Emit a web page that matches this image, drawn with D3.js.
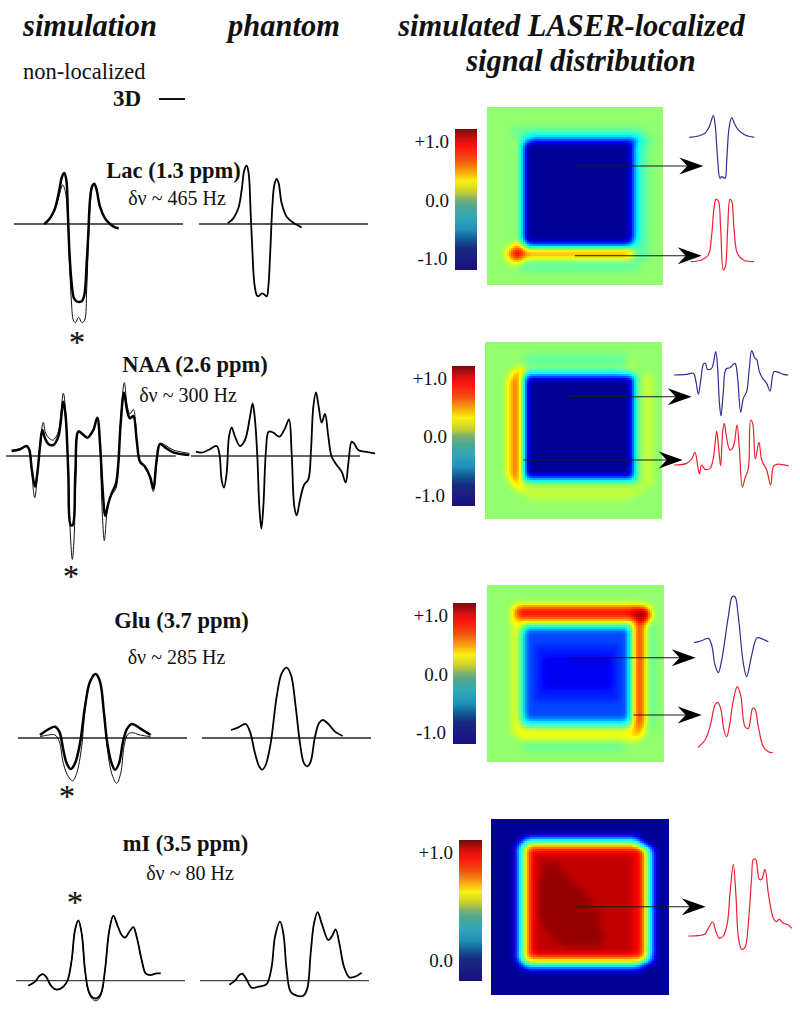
<!DOCTYPE html>
<html><head><meta charset="utf-8">
<style>html,body{margin:0;padding:0;background:#fff}svg{display:block}text{font-family:"Liberation Serif",serif;fill:#111}</style>
<script src="https://cdn.jsdelivr.net/npm/d3@7"></script>
</head><body><svg id="c" width="800" height="1009"></svg>
<script>
// ---- spectra: [channel, amplitude] ----
const lacSimThick=[[133,0],[150,17],[165,47],[178,102],[186,142],[193,153],[199,132],[204,22],[208,-78],[214,-168],[222,-223],[230,-232],[245,-232],[253,-213],[260,-118],[265,-28],[270,72],[276,112],[283,121],[290,102],[300,52],[315,17],[330,0],[345,-10],[356,-13]];
const lacSimThin=[[133,0],[150,17],[165,42],[178,87],[188,117],[196,97],[204,2],[208,-108],[214,-228],[220,-288],[226,-296],[236,-280],[246,-296],[254,-288],[260,-198],[265,-58],[270,52],[276,107],[283,121],[290,102],[300,52],[315,17],[330,0],[345,-10],[356,-13]];
const lacPhantom=[[683,2],[700,17],[715,47],[725,102],[733,162],[740,175],[746,152],[752,32],[757,-78],[763,-178],[770,-213],[775,-217],[787,-208],[800,-217],[805,-188],[811,-78],[817,52],[823,117],[830,135],[836,122],[845,62],[860,22],[880,4],[905,-10]];
const naaSimThick=[[35,15],[60,20],[80,30],[88,18],[95,-37],[105,-92],[112,-52],[120,28],[127,78],[135,53],[145,36],[160,33],[175,58],[190,163],[197,118],[205,-52],[212,-207],[218,-207],[226,-52],[235,73],[245,68],[262,55],[280,78],[292,115],[300,38],[308,-102],[316,-179],[325,-142],[335,-112],[348,-82],[355,-22],[362,98],[372,190],[382,133],[390,113],[400,120],[410,48],[420,-17],[435,-32],[450,-62],[460,-97],[470,-12],[480,36],[495,26],[520,11],[568,3]];
const naaSimThin=[[35,18],[60,22],[80,30],[88,18],[95,-47],[104,-125],[112,-62],[120,38],[130,101],[137,68],[150,51],[160,48],[175,73],[190,188],[197,133],[205,-72],[212,-252],[217,-310],[222,-252],[228,-52],[235,76],[245,68],[262,55],[280,78],[292,115],[300,28],[306,-152],[313,-254],[322,-162],[332,-122],[348,-97],[355,-32],[362,108],[373,220],[382,148],[390,126],[400,140],[410,53],[420,-14],[435,-30],[450,-67],[460,-107],[470,-17],[480,38],[495,33],[520,18],[568,8]];
const naaPhantom=[[588,13],[605,10],[625,18],[650,30],[658,8],[665,-72],[672,-95],[680,-52],[687,58],[695,86],[705,58],[720,30],[735,48],[750,118],[758,158],[765,108],[772,-2],[778,-152],[784,-218],[790,-152],[798,18],[806,73],[820,70],[838,58],[855,83],[867,110],[875,8],[883,-152],[890,-178],[900,-132],[912,-87],[925,-70],[933,18],[940,148],[948,191],[956,148],[965,100],[975,126],[985,58],[995,-2],[1010,-27],[1025,-47],[1037,-79],[1045,-22],[1055,43],[1062,38],[1075,18],[1095,13],[1125,8]];
const gluSimThick=[[120,9],[145,26],[165,34],[178,19],[190,-36],[200,-76],[212,-93],[225,-76],[240,-16],[255,94],[270,169],[287,192],[300,169],[312,74],[322,-16],[335,-76],[345,-95],[357,-76],[370,-6],[382,29],[395,42],[420,29],[452,9]];
const gluSimThin=[[120,4],[145,9],[165,9],[178,-11],[190,-76],[205,-116],[218,-128],[230,-106],[245,-26],[255,84],[270,169],[287,192],[300,169],[312,74],[322,-31],[335,-106],[350,-136],[362,-106],[372,-26],[382,9],[395,16],[420,9],[452,4]];
const gluPhantom=[[693,24],[715,32],[737,42],[750,19],[765,-46],[778,-86],[787,-95],[797,-81],[812,-16],[830,124],[845,194],[860,211],[873,189],[887,94],[900,-16],[912,-76],[922,-85],[932,-71],[945,4],[957,44],[968,54],[985,42],[1005,19],[1028,6]];
const miSimThick=[[85,-15],[105,-3],[118,14],[128,20],[138,12],[155,-18],[170,-27],[190,-18],[203,2],[215,62],[225,152],[235,181],[245,142],[255,32],[265,-28],[275,-48],[290,-53],[303,-38],[315,32],[328,152],[340,195],[352,167],[365,137],[375,129],[388,147],[400,161],[410,132],[425,62],[437,22],[450,17],[470,22],[482,22]];
const miSimThin=[[85,-15],[105,-3],[118,14],[128,20],[138,12],[155,-18],[170,-27],[190,-18],[203,2],[215,62],[225,152],[235,181],[245,142],[255,32],[265,-33],[278,-56],[290,-60],[303,-43],[315,32],[328,152],[340,195],[352,167],[365,137],[375,129],[388,147],[400,161],[410,132],[425,62],[437,22],[450,17],[470,22],[482,22]];
const miPhantom=[[688,-12],[705,0],[718,17],[727,21],[738,7],[755,-21],[775,-18],[800,-10],[815,42],[825,132],[840,177],[850,142],[860,32],[872,-33],[890,-45],[910,-45],[922,-23],[932,82],[942,172],[953,206],[965,172],[985,122],[995,132],[1007,154],[1018,112],[1032,42],[1048,10],[1065,12],[1085,24]];
const lacBlue=[[868,0],[895,4],[915,12],[928,32],[940,65],[946,32],[952,-53],[960,-123],[965,-118],[975,-123],[980,-73],[987,27],[995,59],[1003,42],[1015,22],[1035,7],[1063,0]];
const lacRed=[[872,0],[905,5],[925,20],[935,80],[942,160],[948,187],[955,182],[962,100],[970,-25],[976,-15],[983,100],[990,187],[995,182],[1002,100],[1012,25],[1030,5],[1062,0]];
const naaBlue=[[822,0],[860,2],[880,5],[888,-20],[895,-58],[903,-10],[910,32],[916,35],[922,17],[935,20],[947,70],[953,20],[958,-80],[963,-123],[970,-50],[978,18],[990,22],[1005,35],[1013,-10],[1022,-112],[1030,-70],[1040,-50],[1048,20],[1055,73],[1065,50],[1070,47],[1078,10],[1088,-10],[1100,-25],[1110,-48],[1122,10],[1135,8],[1150,2],[1165,0]];
const naaRed=[[822,0],[860,5],[875,18],[885,38],[892,5],[898,-27],[905,0],[915,-13],[930,-10],[940,20],[950,102],[956,50],[962,-2],[968,100],[973,125],[980,80],[990,45],[1000,55],[1011,120],[1018,50],[1027,-67],[1035,-40],[1045,-10],[1052,135],[1058,125],[1066,18],[1077,68],[1085,15],[1100,-15],[1112,-60],[1120,-5],[1130,2],[1167,-3]];
const gluBlue=[[882,-3],[905,3],[925,10],[935,-10],[945,-70],[955,-93],[965,-55],[985,75],[997,135],[1005,135],[1015,75],[1030,-65],[1040,-105],[1052,-55],[1065,0],[1072,12],[1090,7],[1105,0]];
const gluRed=[[893,16],[915,38],[930,78],[945,143],[953,151],[962,133],[972,68],[980,48],[988,78],[1000,158],[1012,198],[1022,173],[1035,78],[1045,73],[1058,133],[1065,130],[1075,78],[1090,18],[1105,3],[1118,0]];
const miRed=[[865,0],[895,1],[915,6],[925,23],[938,42],[948,13],[958,-7],[970,0],[982,38],[990,128],[1000,215],[1008,118],[1015,-2],[1025,-40],[1035,-34],[1045,38],[1055,178],[1060,230],[1067,230],[1078,170],[1085,170],[1095,200],[1105,128],[1120,53],[1128,43],[1138,50],[1150,38],[1165,33],[1175,23]];

// ---- signal maps: rows as [repeat, run-length levels], a (low) .. z (high) ----
const mapLac=[[5,"44n"],[1,"6n 34m 4n"],[1,"6n 3m 29k 2m 4n"],[1,"6n 2m 1l 2k 26i 2j 1l 1m 3n"],[1,"7n 1o 1l 1i 1e 26c 1e 1i 1k 2l 2n"],[24,"6n 1m 1p 1j 1c 26a 1c 1i 1k 1l 1m 3n"],[1,"6n 1m 1p 1k 1f 26b 1f 1j 2l 1m 3n"],[1,"5n 1o 1q 1s 1t 1j 26f 1i 1k 2l 1m 3n"],[1,"4n 1o 1r 1v 1x 1x 1t 26r 1p 1m 2l 1m 3n"],[1,"4n 1p 1t 1w 1y 1w 1u 26t 1q 1m 2l 1m 3n"],[1,"4n 1o 1r 1v 1x 1v 1s 26r 1o 1m 2l 1m 3n"],[1,"5n 1o 1q 1r 1q 1n 26m 3m 5n"],[1,"7n 1o 30l 6n"],[1,"8n 30m 6n"],[3,"44n"]];
const mapNaa=[[3,"44n"],[1,"11n 24m 9n"],[1,"10n 25l 1n 1o 7n"],[1,"10n 25m 1n 1o 7n"],[1,"7n 1o 1q 1p 26n 1o 7n"],[1,"6n 1p 1r 1t 1r 1l 23l 2n 2o 6n"],[1,"6n 1p 1s 1u 1l 1f 25e 1f 1k 1n 1o 1p 1o 2n"],[1,"5n 1p 1s 1u 1u 1k 1b 25a 1b 1k 1n 1o 1p 1o 2n"],[23,"5n 1p 1s 1u 1u 1k 1b 25a 1c 1k 1n 1o 1p 1o 2n"],[1,"5n 1p 1s 1u 1u 1k 1c 25b 1c 1k 1n 1o 1p 1o 2n"],[1,"6n 1p 1s 1t 1l 1i 25i 1i 1l 1n 1o 1p 1o 2n"],[1,"6n 1p 1r 1s 1q 1o 25n 2n 1o 1o 1p 1o 2n"],[1,"7n 1p 1q 1q 1p 27o 1p 1o 4n"],[1,"8n 1p 1o 28p 1o 5n"],[1,"10n 27o 7n"],[1,"11n 25o 8n"],[4,"44n"]];
const mapGlu=[[4,"44n"],[1,"7n 32o 5n"],[1,"6n 1p 1s 30v 1u 1s 1p 3n"],[1,"6n 1r 1v 28w 2y 2z 1t 3n"],[1,"6n 1r 1v 28x 1y 3z 1u 3n"],[1,"6n 1q 1s 28u 1w 2z 1y 1t 3n"],[1,"6n 3q 27o 1r 1u 1x 1s 1m 3n"],[1,"6n 1p 1q 1p 1j 25i 1j 1s 1v 1v 1q 1l 1m 2n"],[1,"6n 1p 1q 1n 1f 25e 1f 1s 1v 1v 1q 1l 1m 2n"],[3,"6n 1p 1q 1l 1f 25e 1g 1s 1v 1v 1q 1l 1m 2n"],[3,"6n 1p 1q 1l 1f 2e 21d 2e 1g 1s 1v 1v 1q 1l 1m 2n"],[8,"6n 1p 1q 1l 1f 2e 2d 17c 2d 2e 1g 1s 1v 1v 1q 1l 1m 2n"],[3,"6n 1p 1q 1l 1f 2e 21d 2e 1g 1s 1v 1v 1q 1l 1m 2n"],[4,"6n 1p 1q 1l 1f 25e 1g 1s 1v 1v 1q 1l 1m 2n"],[1,"6n 1p 1q 1m 1g 25f 1h 1s 1v 1v 1q 1l 1m 2n"],[1,"6n 1p 1q 1n 1j 25i 1k 1s 1v 1v 1q 1l 1m 2n"],[1,"6n 1p 1q 1q 1p 25o 1p 1s 1u 1s 1o 1m 3n"],[1,"6n 1p 29q 1s 1t 1r 1o 1m 3n"],[1,"7n 1o 28q 1r 1s 1q 5n"],[1,"8n 1o 28p 1o 6n"],[1,"9n 25l 10n"],[1,"9n 25m 10n"],[3,"44n"]];
const mapMi=[[4,"44a"],[1,"8a 1b 27d 1b 7a"],[1,"7a 1c 1g 27k 1g 1c 6a"],[1,"6a 1c 1h 1m 27r 1m 1h 1c 5a"],[1,"6a 1e 1l 1q 1v 27w 1u 1p 1i 1d 3a"],[1,"6a 1d 1k 1q 1v 27x 1w 1q 1j 1d 3a"],[2,"6a 1d 1k 1q 1v 1x 24y 2x 1w 1q 1j 1d 3a"],[2,"6a 1d 1k 1q 1v 1x 2y 4z 18y 2x 1w 1q 1j 1d 3a"],[2,"6a 1d 1k 1q 1v 1x 2y 6z 16y 2x 1w 1q 1j 1d 3a"],[2,"6a 1d 1k 1q 1v 1x 1y 9z 14y 2x 1w 1q 1j 1d 3a"],[2,"6a 1d 1k 1q 1v 1x 1y 11z 12y 2x 1w 1q 1j 1d 3a"],[3,"6a 1d 1k 1q 1v 1x 1y 13z 10y 2x 1w 1q 1j 1d 3a"],[3,"6a 1d 1k 1q 1v 1x 1y 15z 8y 2x 1w 1q 1j 1d 3a"],[3,"6a 1d 1k 1q 1v 1x 2y 14z 8y 2x 1w 1q 1j 1d 3a"],[3,"6a 1d 1k 1q 1v 1x 4y 13z 7y 2x 1w 1q 1j 1d 3a"],[1,"6a 1d 1k 1q 1v 1x 7y 9z 8y 2x 1w 1q 1j 1d 3a"],[2,"6a 1d 1k 1q 1v 1x 24y 2x 1w 1q 1j 1d 3a"],[1,"6a 1e 1l 1q 1u 27v 1u 1p 1i 1d 3a"],[1,"6a 1c 1i 1n 1p 27q 1o 1k 1g 1c 3a"],[1,"7a 1c 1h 27j 1h 1d 1b 5a"],[1,"8a 1c 28d 1c 6a"],[6,"44a"]];

// ---- labels ----
const columnTitles=[["simulation",90,36],["phantom",284,36],["simulated LASER-localized",571.5,36],["signal distribution",581,71]];
const metabolites=["Lac (1.3 ppm)","NAA (2.6 ppm)","Glu (3.7 ppm)","mI (3.5 ppm)"];
const widths=["δν ~ 465 Hz","δν ~ 300 Hz","δν ~ 285 Hz","δν ~ 80 Hz"];
const tickLabels=[["+1.0","0.0","-1.0"],["+1.0","0.0","-1.0"],["+1.0","0.0","-1.0"],["+1.0","0.0"]];

// ---- layout ----
const svg=d3.select("#c");
svg.append("rect").attr("width",800).attr("height",1009).attr("fill","#fff");
const jet=d3.scaleLinear().domain([0,.11,.34,.5,.64,.89,1]).range(["#00007f","#0000ff","#00ffff","#7fff7f","#ffff00","#ff0000","#7f0000"]);
const barColor=d3.scaleLinear().domain([0,.07,.13,.22,.3,.37,.45,.5,.55,.63,.72,.78,.85,1]).range(["#780a0a","#d01010","#ff1510","#f05010","#f8a010","#f8f010","#c8d030","#80b070","#50a890","#30a8b8","#2090b8","#106098","#1a2a80","#1a1080"]);
const curve=d3.curveCatmullRom.alpha(.5);
function spectrum(data,ox,base,stroke,w,c){
  const x=d3.scaleLinear().domain([0,1200]).range([ox,ox+400]);
  const y=d3.scaleLinear().domain([-300,300]).range([base+100,base-100]);
  svg.append("path").datum(data).attr("fill","none").attr("stroke",stroke).attr("stroke-width",w).attr("stroke-linejoin","round")
    .attr("d",d3.line().x(d=>x(d[0])).y(d=>y(d[1])).curve(c||curve));
}
function baseline(x1,x2,y,col){svg.append("line").attr("x1",x1).attr("x2",x2).attr("y1",y).attr("y2",y).attr("stroke",col||"#222").attr("stroke-width",1.3);}
function parseMap(rows){
  const g=[];
  rows.forEach(([n,r])=>{
    let s="";r.split(" ").forEach(tok=>{s+=tok.slice(-1).repeat(+tok.slice(0,-1));});
    const vals=Array.from(s).map(ch=>.02+(ch.charCodeAt(0)-97)*.0384);
    for(let i=0;i<n;i++)g.push(vals);
  });
  return g;
}
function heat(rows,x0,x1,y0,y1){
  const raw=parseMap(rows),nR=raw.length,nC=raw[0].length;
  const rawAt=(r,c)=>raw[Math.max(0,Math.min(nR-1,r))][Math.max(0,Math.min(nC-1,c))];
  const k=[.25,.5,.25];
  const g=raw.map((row,r)=>row.map((_,c)=>{let s=0;for(let a=0;a<3;a++)for(let b=0;b<3;b++)s+=k[a]*k[b]*rawAt(r+a-1,c+b-1);return s;}));
  const sx=d3.scaleLinear().domain([0,nC]).range([x0,x1]),sy=d3.scaleLinear().domain([0,nR]).range([y0,y1]);
  const S=.5,cells=[];
  const at=(r,c)=>g[Math.max(0,Math.min(nR-1,r))][Math.max(0,Math.min(nC-1,c))];
  for(let i=0;i<nR/S;i++)for(let j=0;j<nC/S;j++){
    const gy=(i+.5)*S-.5,gx=(j+.5)*S-.5,r=Math.floor(gy),c=Math.floor(gx),fy=gy-r,fx=gx-c;
    const v=at(r,c)*(1-fx)*(1-fy)+at(r,c+1)*fx*(1-fy)+at(r+1,c)*(1-fx)*fy+at(r+1,c+1)*fx*fy;
    cells.push({i,j,v});
  }
  const cw=sx(S)-sx(0),ch=sy(S)-sy(0);
  svg.append("g").attr("shape-rendering","crispEdges").selectAll("rect").data(cells).join("rect")
    .attr("x",d=>sx(d.j*S)).attr("y",d=>sy(d.i*S)).attr("width",cw+.6).attr("height",ch+.6).attr("fill",d=>jet(d.v));
}
function colorbar(x0,x1,y0,y1){
  const y=d3.scaleLinear().domain([0,1]).range([y0,y1]);
  const n=Math.round(y1-y0);
  svg.append("g").attr("shape-rendering","crispEdges").selectAll("rect").data(d3.range(n)).join("rect")
    .attr("x",x0).attr("width",x1-x0).attr("y",d=>y(d/n)).attr("height",y(1/n)-y(0)+.6).attr("fill",d=>barColor((d+.5)/n));
}
function arrow(x1,y,tip){
  svg.append("line").attr("x1",x1).attr("x2",tip-14).attr("y1",y).attr("y2",y).attr("stroke","#1a1a1a").attr("stroke-width",1.1);
  svg.append("path").attr("fill","#000").attr("d",`M${tip},${y}L${tip-24},${y-8.5}L${tip-16},${y}L${tip-24},${y+8.5}Z`);
}
function label(t,x,y,size,opt){
  opt=opt||{};
  svg.append("text").attr("x",x).attr("y",y).attr("font-size",size).attr("text-anchor",opt.a||"middle")
    .attr("font-weight",opt.b?"bold":"normal").attr("font-style",opt.i?"italic":"normal")
    .attr("stroke",opt.st?"#111":null).attr("stroke-width",opt.st||null).text(t);
}

// titles
columnTitles.forEach(([t,x,y])=>label(t,x,y,30.5,{b:1,i:1}));
label("non-localized",23,79,22.5,{a:"start"});
label("3D",113,106,23,{a:"start",b:1});
svg.append("line").attr("x1",159).attr("x2",185).attr("y1",99).attr("y2",99).attr("stroke","#111").attr("stroke-width",2);

// left columns
const thick=2.5,thin=1,phan=1.8;
baseline(14,183,224);baseline(199,368,224);
spectrum(lacSimThin,0,224,"#111",thin);spectrum(lacSimThick,0,224,"#000",thick);spectrum(lacPhantom,0,224,"#000",phan);
baseline(6,175.7,456,"#333");baseline(191,360,456,"#333");
spectrum(naaSimThin,0,456,"#111",thin);spectrum(naaSimThick,0,456,"#000",thick);spectrum(naaPhantom,0,456,"#000",phan);
baseline(18,187,738);baseline(202,371,738);
spectrum(gluSimThin,0,738,"#111",thin);spectrum(gluSimThick,0,738,"#000",thick);spectrum(gluPhantom,0,738,"#000",phan);
baseline(16,185,980.7,"#444");baseline(200,369,980.7,"#444");
spectrum(miSimThin,0,980.7,"#111",thin);spectrum(miSimThick,0,980.7,"#000",1.8);spectrum(miPhantom,0,980.7,"#000",phan);

label(metabolites[0],173.5,178,22.5,{b:1});label(widths[0],177,205,20);
label(metabolites[1],195,372,22.5,{b:1});label(widths[1],188,402,20);
label(metabolites[2],181.5,628,22.5,{b:1});label(widths[2],176.5,664,20);
label(metabolites[3],185.5,851,22.5,{b:1});label(widths[3],190,880,20);

[[77,352.5],[71,587],[67,807],[75,913]].forEach(p=>label("*",p[0],p[1],32,{st:.2}));

// maps
heat(mapLac,486.7,662.3,107.3,284);
heat(mapNaa,485.3,661.7,341.7,518);
heat(mapGlu,486.7,663.7,584.7,761.7);
heat(mapMi,491,668,819.3,994.7);
colorbar(454.7,477.3,128.7,269);colorbar(452.3,475.3,365.7,505.7);colorbar(453.3,476.3,603,743.3);colorbar(459,481.7,840,980);
[[449,147.7],[449,207],[447.5,265]].forEach((p,i)=>label(tickLabels[0][i],p[0],p[1],19,{a:"end"}));
[[447,385],[447,443],[445,501.7]].forEach((p,i)=>label(tickLabels[1][i],p[0],p[1],19,{a:"end"}));
[[448,621.7],[448,681],[446,739]].forEach((p,i)=>label(tickLabels[2][i],p[0],p[1],19,{a:"end"}));
[[453,859],[453,966.7]].forEach((p,i)=>label(tickLabels[3][i],p[0],p[1],19,{a:"end"}));

// small spectra
const navy="#2f2f90",red="#ee2030";
spectrum(lacBlue,400,137.3,navy,1.2);spectrum(lacRed,400,261.7,red,1.2);
spectrum(naaBlue,400,375,navy,1.2);spectrum(naaRed,400,465,red,1.2);
spectrum(gluBlue,400,641.7,navy,1.2);spectrum(gluRed,400,752.7,red,1.2);
spectrum(miRed,400,936,red,1.2);
arrow(575,166,703.3);arrow(575,255.7,701.7);
arrow(565,396.7,691.7);arrow(523.3,460,682.7);
arrow(568,657.7,695.7);arrow(633.3,715,701.7);
arrow(576.7,906.7,705.7);
</script></body></html>
